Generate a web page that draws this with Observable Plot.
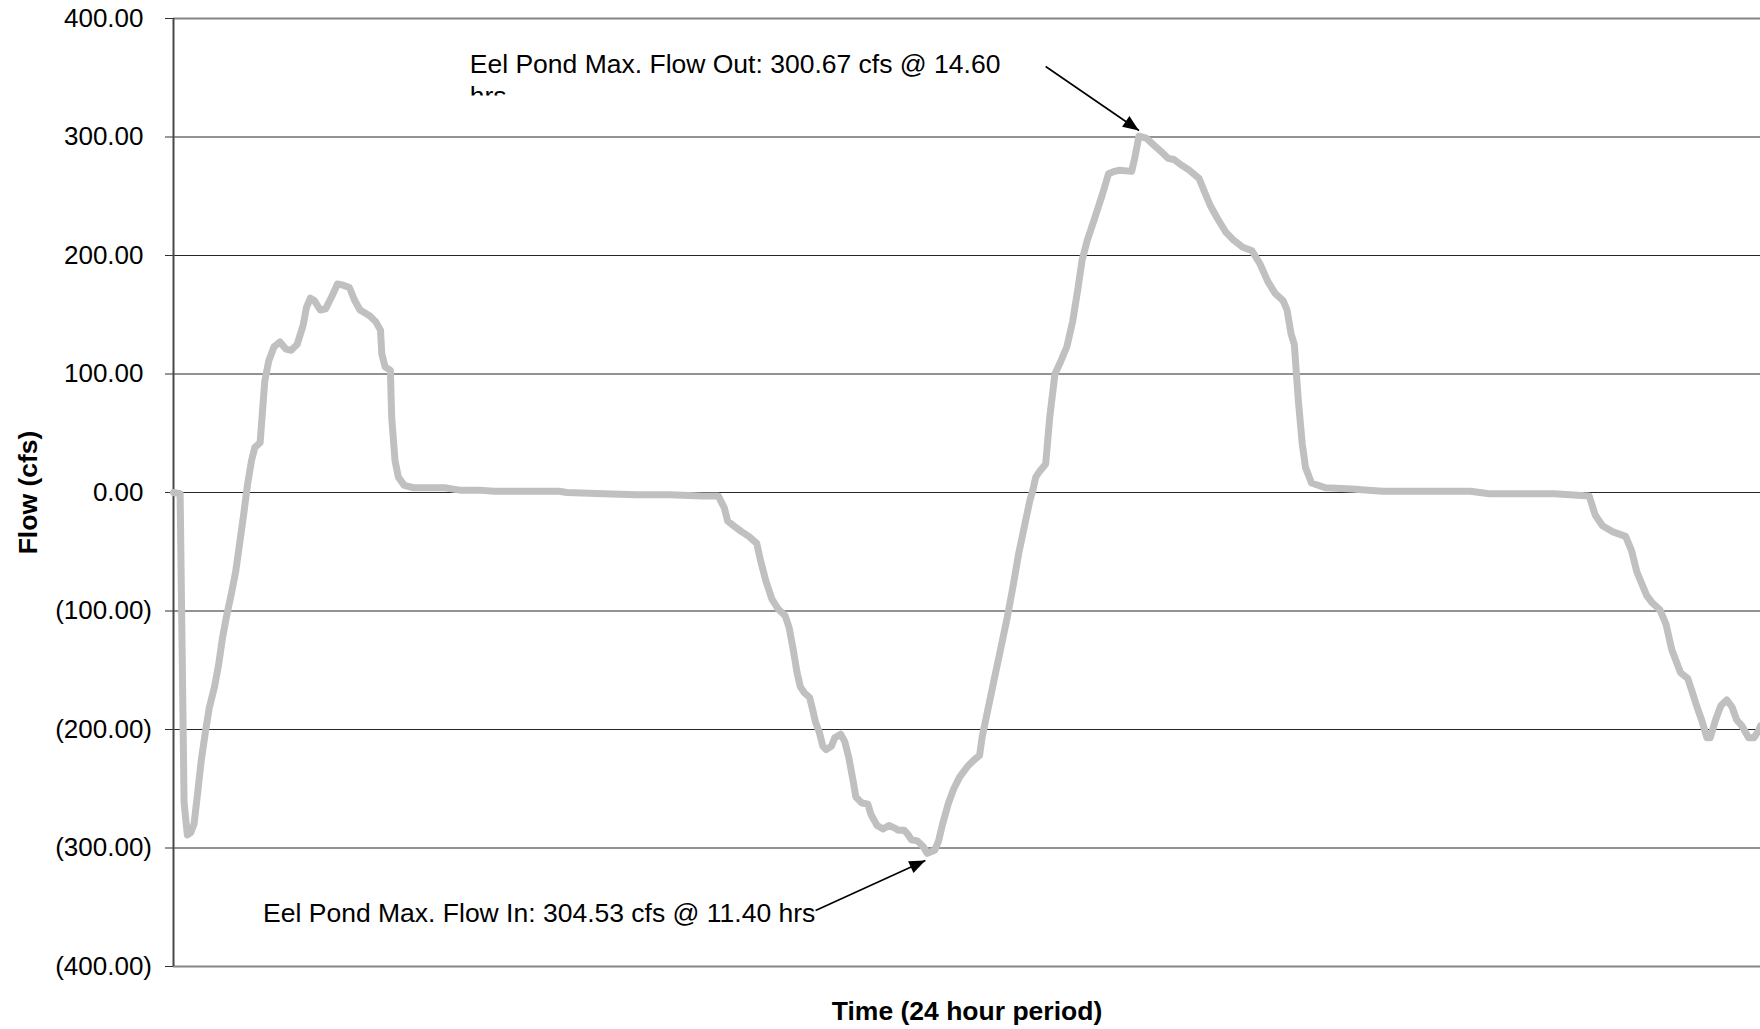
<!DOCTYPE html>
<html>
<head>
<meta charset="utf-8">
<script src="https://cdn.jsdelivr.net/npm/d3@7"></script>
<script src="https://cdn.jsdelivr.net/npm/@observablehq/plot@0.6"></script>
<style>
  html, body { margin: 0; padding: 0; background: #ffffff; overflow: hidden; }
  #chart svg { display: block; }
</style>
</head>
<body>
<div id="chart"></div>
<script>
// ---- Data ----
const hours = [
  0.00, 0.10, 0.16, 0.21, 0.26, 0.31, 0.36, 0.42, 0.48, 0.54, 0.62, 0.68, 0.74, 0.80, 0.88, 0.94,
  1.00, 1.06, 1.12, 1.18, 1.23, 1.31, 1.38, 1.44, 1.52, 1.61, 1.70, 1.78, 1.87, 1.96, 2.01, 2.07,
  2.13, 2.22, 2.30, 2.39, 2.48, 2.56, 2.66, 2.74, 2.82, 2.91, 2.97, 3.06, 3.13, 3.15, 3.20, 3.28,
  3.30, 3.35, 3.40, 3.49, 3.63, 4.10, 4.33, 4.62, 4.85, 5.83, 5.95, 6.50, 7.00, 7.50, 8.00, 8.24,
  8.33, 8.38, 8.47, 8.59, 8.70, 8.82, 8.88, 8.96, 9.05, 9.14, 9.25, 9.31, 9.37, 9.43, 9.48, 9.54,
  9.62, 9.66, 9.71, 9.77, 9.82, 9.87, 9.95, 10.00, 10.09, 10.15, 10.21, 10.28, 10.32, 10.41, 10.50, 10.55,
  10.64, 10.73, 10.82, 10.90, 10.96, 11.05, 11.10, 11.16, 11.25, 11.34, 11.40, 11.51, 11.57, 11.63, 11.72, 11.80,
  11.89, 12.01, 12.12, 12.19, 12.23, 12.32, 12.41, 12.52, 12.61, 12.70, 12.78, 12.87, 12.95, 13.00, 13.04, 13.10,
  13.19, 13.25, 13.33, 13.42, 13.51, 13.60, 13.68, 13.74, 13.82, 13.94, 14.05, 14.14, 14.23, 14.31, 14.49, 14.54,
  14.60, 14.71, 14.83, 14.95, 15.04, 15.13, 15.25, 15.36, 15.51, 15.59, 15.68, 15.79, 15.91, 16.03, 16.17, 16.31,
  16.43, 16.55, 16.66, 16.78, 16.84, 16.90, 16.95, 17.01, 17.07, 17.12, 17.21, 17.42, 17.82, 18.28, 19.09, 19.61,
  19.90, 20.66, 20.88, 21.41, 21.50, 21.61, 21.76, 21.96, 22.05, 22.13, 22.28, 22.36, 22.48, 22.57, 22.66, 22.79,
  22.90, 22.96, 23.04, 23.11, 23.19, 23.24, 23.32, 23.40, 23.49, 23.57, 23.64, 23.72, 23.82, 23.90, 23.97, 24.00
];
const flows = [
  0, -1, -262, -289, -287, -280, -256, -226, -203, -182, -164, -146, -123, -105, -84, -67,
  -43, -19, 7, 27, 38, 42, 94, 111, 123, 127, 121, 120, 125, 141, 156, 164,
  162, 154, 155, 165, 176, 175, 173, 162, 154, 151, 149, 144, 137, 117, 106, 103,
  63, 27, 13, 6, 4, 4, 2, 2, 1, 1, 0, -1, -2, -2, -3, -3,
  -13, -24, -28, -33, -37, -43, -58, -75, -90, -98, -104, -114, -132, -152, -164, -169,
  -173, -182, -194, -203, -214, -217, -214, -207, -204, -210, -223, -244, -257, -262, -263, -272,
  -281, -284, -281, -283, -285, -285, -288, -293, -294, -299, -304.53, -302, -294, -280, -262, -250,
  -240, -231, -225, -222, -206, -182, -158, -129, -105, -78, -52, -28, -7, 3, 13, 18,
  24, 63, 100, 111, 123, 145, 173, 196, 213, 233, 252, 269, 271, 272, 271, 283,
  300.67, 299, 293, 287, 282, 281, 276, 272, 265, 254, 242, 231, 220, 213, 207, 204,
  193, 178, 168, 162, 154, 134, 125, 78, 41, 21, 8, 4, 3, 1, 1, 1,
  -1, -1, -1, -3, -19, -28, -33, -37, -49, -67, -87, -93, -99, -111, -133, -152,
  -157, -167, -181, -192, -207, -207, -192, -180, -175, -181, -192, -197, -207, -207, -201, -197
];
const yTickValues = [400, 300, 200, 100, 0, -100, -200, -300, -400];
const gridValues = [300, 200, 100, 0, -100, -200, -300];
const borderValues = [400, -400];

const annotationLabels = [
  "Eel Pond Max. Flow Out: 300.67 cfs @ 14.60\nhrs",
  "Eel Pond Max. Flow In: 304.53 cfs @ 11.40 hrs"
];
const annotationHours = [4.48, 1.355];
const annotationFlows = [327.4, -362.6];
const arrowFromHours = [13.19, 9.71];
const arrowFromFlows = [359.5, -352.7];
const arrowToHours = [14.6, 11.37];
const arrowToFlows = [305.5, -310.5];

const xTitle = "Time (24 hour period)";
const yTitle = "Flow (cfs)";

// ---- Layout ----
const W = 1760, H = 1029;
const mL = 173, mR = 0, mT = 18, mB = 63;
const FONT = "Arial, 'Liberation Sans', Helvetica, sans-serif";

const series = hours.map((h, i) => ({hour: h, flow: flows[i]}));
const annotations = annotationLabels.map((label, i) => ({label, hour: annotationHours[i], flow: annotationFlows[i]}));
const arrows = arrowFromHours.map((h, i) => ({
  fromHour: h, fromFlow: arrowFromFlows[i], toHour: arrowToHours[i], toFlow: arrowToFlows[i]
}));

// screen-space direction of each arrow (same domains/ranges as the Plot scales)
const sx = d3.scaleLinear([0, 24], [mL, W - mR]);
const sy = d3.scaleLinear([-400, 400], [H - mB, mT]);
function headSymbol(a) {
  const dx = sx(a.toHour) - sx(a.fromHour), dy = sy(a.toFlow) - sy(a.fromFlow);
  const len = Math.hypot(dx, dy), ux = dx / len, uy = dy / len;
  const L = 16, Wd = 6.5;
  return {
    draw(ctx) {
      ctx.moveTo(0, 0);
      ctx.lineTo(-L * ux - Wd * uy, -L * uy + Wd * ux);
      ctx.lineTo(-L * ux + Wd * uy, -L * uy - Wd * ux);
      ctx.closePath();
    }
  };
}

const fmt = v => v >= 0 ? v.toFixed(2) : `(${(-v).toFixed(2)})`;

const chart = Plot.plot({
  width: W,
  height: H,
  marginLeft: mL,
  marginRight: mR,
  marginTop: mT,
  marginBottom: mB,
  style: {fontFamily: FONT, background: "#ffffff", color: "#000"},
  x: {domain: [0, 24], axis: null},
  y: {domain: [-400, 400]},
  marks: [
    Plot.ruleY(gridValues, {stroke: "#262626", strokeWidth: 1}),
    Plot.ruleY(borderValues, {stroke: "#868686", strokeWidth: 2}),
    Plot.axisY(yTickValues.filter(v => v >= 0), {
      anchor: "left", tickSize: 8, tickPadding: 22, tickFormat: fmt,
      fontSize: 26, stroke: "#333", label: null
    }),
    Plot.axisY(yTickValues.filter(v => v < 0), {
      anchor: "left", tickSize: 8, tickPadding: 13.5, tickFormat: fmt,
      fontSize: 26, stroke: "#333", label: null
    }),
    Plot.ruleX([0], {stroke: "#484848", strokeWidth: 2}),
    Plot.line(series, {
      x: "hour", y: "flow", stroke: "#c0c0c0", strokeWidth: 7,
      strokeLinejoin: "round", strokeLinecap: "round"
    }),
    Plot.text([annotations[0]], {
      x: "hour", y: "flow", text: "label", textAnchor: "start", lineAnchor: "bottom",
      lineHeight: 1.2, fontSize: 26.5, fill: "#000"
    }),
    Plot.text([annotations[1]], {
      x: "hour", y: "flow", text: "label", textAnchor: "start", lineAnchor: "bottom",
      fontSize: 26.5, fill: "#000"
    }),
    Plot.link(arrows, {
      x1: "fromHour", y1: "fromFlow", x2: "toHour", y2: "toFlow",
      stroke: "#000", strokeWidth: 1.6
    }),
    Plot.dot([arrows[0]], {x: "toHour", y: "toFlow", symbol: headSymbol(arrows[0]), r: 8, fill: "#000", stroke: "none"}),
    Plot.dot([arrows[1]], {x: "toHour", y: "toFlow", symbol: headSymbol(arrows[1]), r: 8, fill: "#000", stroke: "none"}),
    Plot.text([yTitle], {
      frameAnchor: "left", dx: -145, rotate: -90, lineAnchor: "middle", textAnchor: "middle",
      fontSize: 26.5, fontWeight: "bold", fill: "#000"
    }),
    Plot.text([xTitle], {
      frameAnchor: "bottom", dy: 53, lineAnchor: "bottom", textAnchor: "middle",
      fontSize: 26.5, fontWeight: "bold", fill: "#000"
    })
  ]
});

// The upper annotation's text box is clipped just below its first line, as in the reference.
const svg = d3.select(chart);
const clip = svg.insert("defs", ":first-child").append("clipPath").attr("id", "annotClip");
clip.append("rect").attr("x", 0).attr("y", 0).attr("width", W).attr("height", 95);
svg.selectAll("text").filter(function () { return this.textContent.includes("Flow Out"); })
  .each(function () { d3.select(this.parentNode).attr("clip-path", "url(#annotClip)"); });

document.getElementById("chart").appendChild(chart);
</script>
</body>
</html>
